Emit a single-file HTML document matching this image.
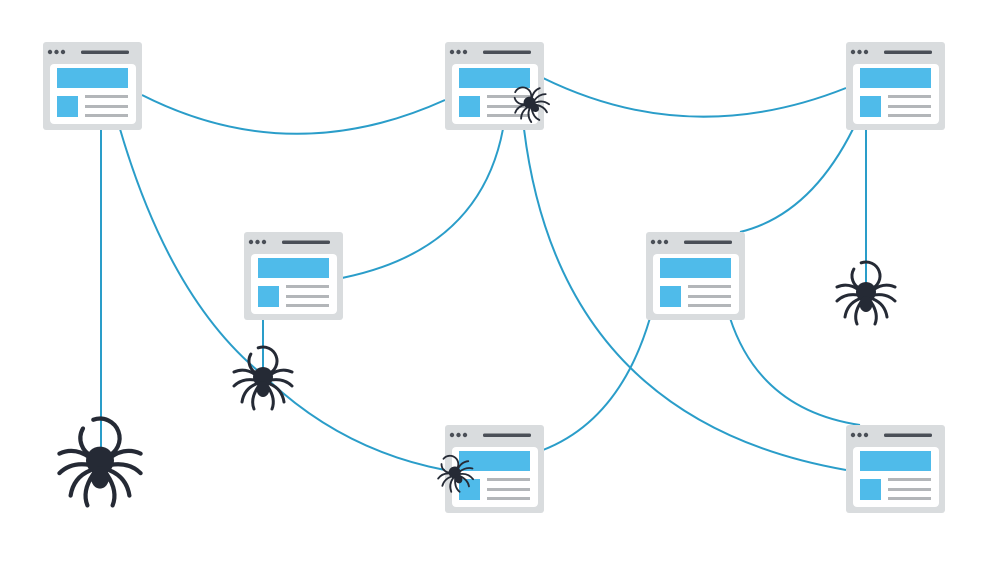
<!DOCTYPE html>
<html><head><meta charset="utf-8"><style>html,body{margin:0;padding:0;background:#fff}svg{display:block}</style></head>
<body>
<svg width="1000" height="562" viewBox="0 0 1000 562" xmlns="http://www.w3.org/2000/svg">
<defs>
<g id="win">
<rect x="0" y="0" width="99" height="88" rx="3" fill="#d9dcde"/>
<circle cx="7" cy="10" r="2.2" fill="#4a4f57"/><circle cx="13.5" cy="10" r="2.2" fill="#4a4f57"/><circle cx="20" cy="10" r="2.2" fill="#4a4f57"/>
<rect x="38" y="8.5" width="48" height="3.5" rx="1.5" fill="#4a4f57"/>
<rect x="7" y="22" width="86" height="60" rx="4" fill="#fff"/>
<rect x="14" y="26" width="71" height="20" fill="#4fbbea"/>
<rect x="14" y="54" width="21" height="21" fill="#4fbbea"/>
<rect x="42" y="53" width="43" height="3" fill="#b3b6b9"/>
<rect x="42" y="63" width="43" height="3" fill="#b3b6b9"/>
<rect x="42" y="72" width="43" height="3" fill="#b3b6b9"/>
</g>
<g id="sp" fill="none" stroke="#252a35" stroke-width="3" stroke-linecap="round">
<circle cx="0" cy="-17" r="14" stroke-dasharray="78 10" transform="rotate(-110 0 -17)"/>
<path d="M-7,-3 Q-18,-11 -29,-6"/>
<path d="M-8,2 Q-21,0 -29,8"/>
<path d="M-7,6 Q-19,11 -21,24"/>
<path d="M-5,9 Q-13,21 -9,31"/>
<path d="M7,-3 Q18,-11 29,-6"/>
<path d="M8,2 Q21,0 29,8"/>
<path d="M7,6 Q19,11 21,24"/>
<path d="M5,9 Q13,21 9,31"/>
<circle cx="0" cy="-1" r="10" fill="#252a35" stroke="none"/>
<ellipse cx="0" cy="11" rx="6.5" ry="8" fill="#252a35" stroke="none"/>
</g>
</defs>
<g fill="none" stroke="#2a9dc9" stroke-width="2">
<path d="M142,95 Q290,170 445,100"/>
<path d="M543,78 Q690,150 846,88"/>
<path d="M101,129 L101,450"/>
<path d="M120,129 Q170,300 263,375 Q340,450 445,470"/>
<path d="M503,129 Q480,250 342,278"/>
<path d="M524,129 Q560,420 846,470"/>
<path d="M853,129 Q810,215 740,232"/>
<path d="M866,129 L866,285"/>
<path d="M263,320 L263,370"/>
<path d="M650,318 Q620,420 543,450"/>
<path d="M730,318 Q760,410 860,425"/>
</g>
<use href="#win" x="43" y="42"/>
<use href="#win" x="445" y="42"/>
<use href="#win" x="846" y="42"/>
<use href="#win" x="244" y="232"/>
<use href="#win" x="646" y="232"/>
<use href="#win" x="445" y="425"/>
<use href="#win" x="846" y="425"/>
<use href="#sp" transform="translate(100,462) scale(1.4)"/>
<use href="#sp" transform="translate(263,378)"/>
<use href="#sp" transform="translate(866,293)"/>
<use href="#sp" transform="translate(530,103) rotate(-45) scale(0.6)"/>
<use href="#sp" transform="translate(455,473) rotate(-30) scale(0.6)"/>
</svg>
</body></html>
